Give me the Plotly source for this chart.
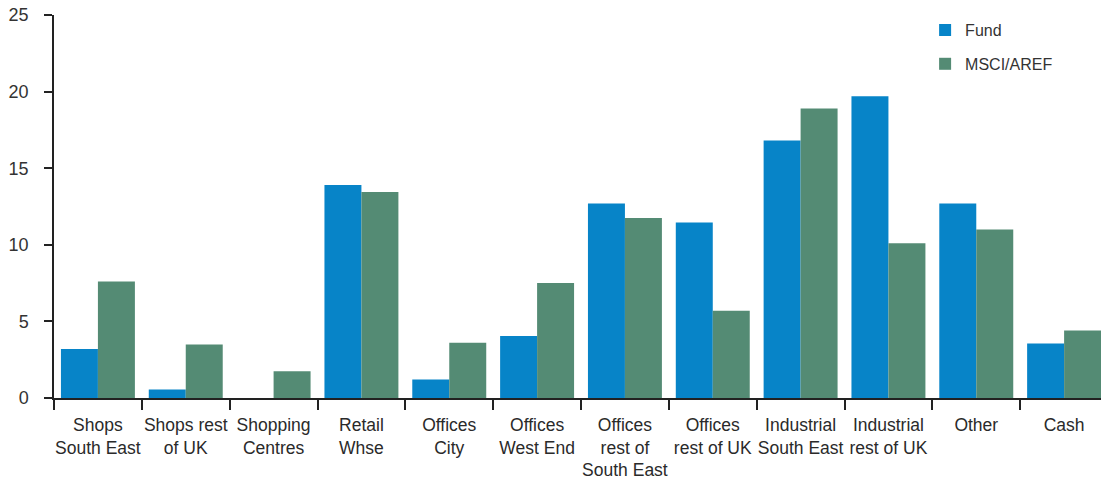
import plotly.graph_objects as go

categories = [
    "Shops<br>South East", "Shops rest<br>of UK", "Shopping<br>Centres", "Retail<br>Whse",
    "Offices<br>City", "Offices<br>West End", "Offices<br>rest of<br>South East",
    "Offices<br>rest of UK", "Industrial<br>South East", "Industrial<br>rest of UK",
    "Other", "Cash",
]
fund = [3.2, 0.55, 0.0, 13.9, 1.2, 4.05, 12.7, 11.45, 16.8, 19.7, 12.7, 3.55]
msci_aref = [7.6, 3.5, 1.75, 13.45, 3.6, 7.5, 11.75, 5.7, 18.9, 10.1, 11.0, 4.4]
y_ticks = [0, 5, 10, 15, 20, 25]

FONT = "Liberation Sans, Arial, sans-serif"

fig = go.Figure()
fig.add_trace(go.Bar(x=categories, y=fund, name="Fund", marker_color="#0784c8",
                     marker_line_width=0, legendgroup="a"))
fig.add_trace(go.Bar(x=categories, y=msci_aref, name="MSCI/AREF", marker_color="#548b74",
                     marker_line_width=0, legendgroup="b"))

fig.update_layout(
    width=1101, height=481,
    margin=dict(l=54, r=0, t=15, b=83),
    plot_bgcolor="white", paper_bgcolor="white",
    barmode="group", bargap=0.158, bargroupgap=0,
    font=dict(family=FONT, color="#2a2a2a"),
    legend=dict(x=0.832, y=1.005, xanchor="left", yanchor="top",
                font=dict(size=16, color="#333333"), tracegroupgap=10,
                bgcolor="rgba(0,0,0,0)"),
    showlegend=True,
)
fig.update_xaxes(
    range=[-0.5, 11.42], showline=True, linecolor="#222222", linewidth=1.5,
    ticks="outside", tickson="boundaries", ticklen=10, tickwidth=1.5, tickcolor="#222222",
    tickfont=dict(size=17.5, color="#2a2a2a"), showgrid=False, zeroline=False,
    tickangle=0, ticklabelstandoff=10,
)
fig.update_yaxes(
    range=[0, 25], tickvals=y_ticks, showline=True, linecolor="#222222", linewidth=1.5,
    ticks="outside", ticklen=8, tickwidth=1.5, tickcolor="#222222",
    tickfont=dict(size=18, color="#333333"), showgrid=False, zeroline=False,
    ticklabelstandoff=12,
)

fig.write_html("out.html")
